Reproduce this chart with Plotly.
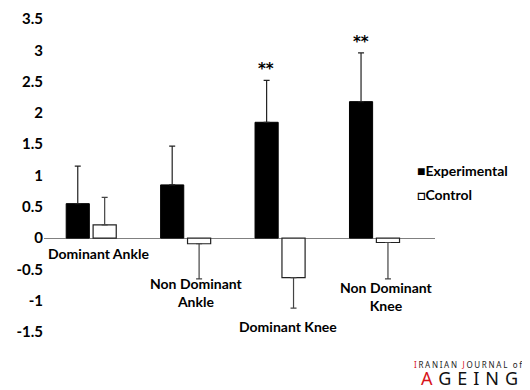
import plotly.graph_objects as go

categories = ["Dominant Ankle", "Non Dominant Ankle", "Dominant Knee", "Non Dominant Knee"]
label_text = ["Dominant Ankle", "Non Dominant<br>Ankle", "Dominant Knee", "Non Dominant<br>Knee"]
experimental = [0.55, 0.85, 1.85, 2.18]
experimental_sd = [0.60, 0.62, 0.67, 0.78]
control = [0.21, -0.09, -0.63, -0.07]
control_sd = [0.44, 0.56, 0.49, 0.58]
significance = ["", "", "**", "**"]
y_ticks = [-1.5, -1, -0.5, 0, 0.5, 1, 1.5, 2, 2.5, 3, 3.5]

FONT = "Lato"
OFF = 8  # page body margin offset
W, H = 530 - OFF, 390 - OFF
L, T = 44 - OFF, 19 - OFF
R = W - (435 - OFF)
B = H - (332 - OFF)
PW, PH = W - L - R, H - T - B


def px_x(p):
    return (p - OFF - L) / PW


def px_y(p):
    return (H - B - (p - OFF)) / PH


def up(vals, errs):
    return [e if v >= 0 else 0 for v, e in zip(vals, errs)]


def down(vals, errs):
    return [e if v < 0 else 0 for v, e in zip(vals, errs)]


fig = go.Figure()
fig.add_trace(go.Bar(
    x=categories, y=experimental, name="Experimental",
    marker=dict(color="black", line=dict(color="black", width=1)),
    error_y=dict(type="data", symmetric=False,
                 array=up(experimental, experimental_sd),
                 arrayminus=down(experimental, experimental_sd),
                 color="#222", thickness=1.2, width=3),
    showlegend=False,
))
fig.add_trace(go.Bar(
    x=categories, y=control, name="Control",
    marker=dict(color="white", line=dict(color="#222", width=1.2)),
    error_y=dict(type="data", symmetric=False,
                 array=up(control, control_sd),
                 arrayminus=down(control, control_sd),
                 color="#444", thickness=1.2, width=3),
    showlegend=False,
))

# significance markers above experimental bars
for c, v, e, s in zip(categories, experimental, experimental_sd, significance):
    if s:
        fig.add_annotation(x=c, y=v + e, xref="x", yref="y", text=s, showarrow=False,
                           xshift=-14, yshift=11, yanchor="middle",
                           font=dict(family="DejaVu Sans", size=15, color="black", weight="bold"))

# category labels (placed as in reference)
label_y = [-0.24, -0.87, -1.41, -0.93]
label_dx = [7, 11, 8, 12]
for c, t, ly, dx in zip(categories, label_text, label_y, label_dx):
    fig.add_annotation(x=c, y=ly, xref="x", yref="y", text=t, showarrow=False,
                       xshift=dx, yanchor="middle",
                       font=dict(family=FONT, size=14, color="black", weight="bold"))

# legend-like labels
fig.add_annotation(x=px_x(415), y=px_y(170), xref="paper", yref="paper",
                   text="■Experimental", showarrow=False, xanchor="left", yanchor="middle",
                   font=dict(family=FONT, size=14, color="black", weight="bold"))
fig.add_annotation(x=px_x(415), y=px_y(194), xref="paper", yref="paper",
                   text="□Control", showarrow=False, xanchor="left", yanchor="middle",
                   font=dict(family=FONT, size=14, color="black", weight="bold"))

# journal logo
fig.add_annotation(x=px_x(526), y=px_y(364), xref="paper", yref="paper",
                   text="<span style='letter-spacing:1.7px'><span style='color:#d7141a'>I</span>RANIAN "
                        "<span style='color:#d7141a'>J</span>OURNAL of</span>",
                   showarrow=False, xanchor="right", yanchor="middle",
                   font=dict(family="Noto Sans", size=8, color="#222"))
fig.add_annotation(x=px_x(526), y=px_y(378), xref="paper", yref="paper",
                   text="<span style='letter-spacing:6px'><span style='color:#d7141a'>A</span>GEING</span>",
                   showarrow=False, xanchor="right", yanchor="middle",
                   font=dict(family="Noto Sans", size=18, color="#111"))

fig.update_layout(
    width=W, height=H, autosize=False,
    margin=dict(l=L, r=R, t=T, b=B, pad=0),
    paper_bgcolor="white", plot_bgcolor="white",
    barmode="group", bargap=0.43, bargroupgap=0.14,
    showlegend=False,
    font=dict(family=FONT, size=14, color="black"),
)
fig.update_xaxes(showticklabels=False, showgrid=False, zeroline=False, showline=False,
                 ticks="", automargin=False)
fig.update_yaxes(range=[-1.5, 3.5], tickvals=y_ticks,
                 ticktext=[f"{v:g}" for v in y_ticks],
                 showgrid=False, showline=False, ticks="", automargin=False,
                 zeroline=True, zerolinecolor="#808080", zerolinewidth=1.2,
                 tickfont=dict(family=FONT, size=15, color="black", weight="bold"))

fig.write_html("out.html")
